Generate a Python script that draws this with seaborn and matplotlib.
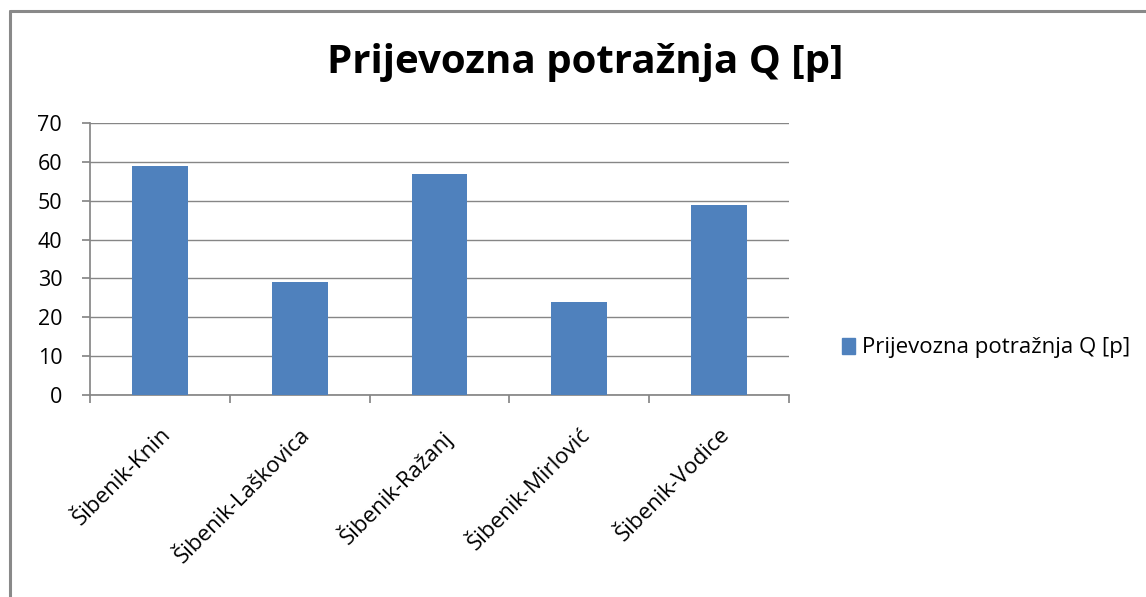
import matplotlib
matplotlib.use("Agg")
import matplotlib.pyplot as plt
import seaborn as sns
import pandas as pd
from matplotlib.patches import Rectangle
from matplotlib.lines import Line2D

categories = ["Šibenik-Knin", "Šibenik-Laškovica", "Šibenik-Ražanj", "Šibenik-Mirlović", "Šibenik-Vodice"]
values = [59, 29, 57, 24, 49]
series_name = "Prijevozna potražnja Q [p]"
title = "Prijevozna potražnja Q [p]"
yticks = [0, 10, 20, 30, 40, 50, 60, 70]

sns.set_theme(style="white")
plt.rcParams['font.family'] = ['Open Sans', 'DejaVu Sans']
plt.rcParams['text.color'] = 'black'
plt.rcParams['xtick.color'] = 'black'
plt.rcParams['ytick.color'] = 'black'

df = pd.DataFrame({"cat": categories, "val": values})

fig = plt.figure(figsize=(11.46, 5.97), dpi=100)
ax = fig.add_axes([90/1146, 1-395/597, (789-90)/1146, (395-123)/597])

sns.barplot(data=df, x="cat", y="val", color="#4F81BD", saturation=1, width=0.4, ax=ax, zorder=3)
for p in ax.patches:
    p.set_edgecolor("none")

ax.set_ylim(0, 70)
ax.set_xlim(-0.5, len(categories) - 0.5)
ax.set_yticks(yticks)
ax.set_yticklabels([str(t) for t in yticks], fontsize=15.5)
ax.yaxis.grid(True, color="#868686", linewidth=1, zorder=0)
ax.set_axisbelow(True)
ax.set_xlabel("")
ax.set_ylabel("")

for s in ["top", "right"]:
    ax.spines[s].set_visible(False)
ax.spines["left"].set_color("#868686")
ax.spines["bottom"].set_color("#868686")

# category ticks at boundaries
ax.set_xticks([i + 0.5 for i in range(-1, len(categories))], minor=False)
ax.set_xticklabels([""] * (len(categories) + 1))
ax.tick_params(axis="x", which="major", length=6, color="#868686", direction="out", bottom=True)
ax.tick_params(axis="y", length=6, color="#868686", direction="out", left=True, pad=14,
               labelcolor="black")
ax.set_xticks(range(len(categories)), minor=True)
ax.set_xticklabels(categories, minor=True, rotation=45, ha="right", rotation_mode="anchor",
                   fontsize=16, color="black")
ax.tick_params(axis="x", which="minor", length=0, pad=21)

fig.text(585/1146, 1-62/597, title, ha="center", va="center", fontsize=29, fontweight="bold",
         color="black")

# legend
handle = Rectangle((0, 0), 1, 1, color="#4F81BD")
fig.legend([handle], [series_name], loc="center left", bbox_to_anchor=(822/1146, 1-348/597),
           frameon=False, fontsize=16, handlelength=0.6, handleheight=0.75, handletextpad=0.3,
           labelcolor="black")

# figure border (left and top only, as in the cropped reference)
fig.add_artist(Line2D([9.5/1146, 9.5/1146], [0, 1-11/597], transform=fig.transFigure,
                      color="#898989", linewidth=2.2))
fig.add_artist(Line2D([9.5/1146, 1], [1-11/597, 1-11/597], transform=fig.transFigure,
                      color="#898989", linewidth=2.2))

fig.savefig("out.png", dpi=100)
